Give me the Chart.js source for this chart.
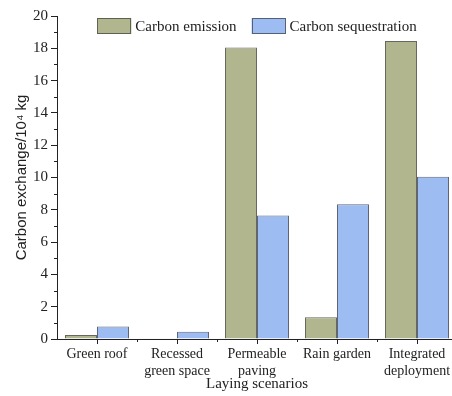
<!DOCTYPE html>
<html>
<head>
<meta charset="utf-8">
<script src="https://cdn.jsdelivr.net/npm/chart.js@4/dist/chart.umd.min.js"></script>
<style>
  html, body { margin: 0; padding: 0; background: #fff; overflow: hidden; }
  #wrap { position: absolute; left: 0; top: 0; width: 462px; height: 396px; }
</style>
</head>
<body>
<div id="wrap"><canvas id="c" width="462" height="396"></canvas></div>
<script>
// Laying scenarios and their carbon exchange (10^4 kg)
const categories = [
  ["Green roof"],
  ["Recessed", "green space"],
  ["Permeable", "paving"],
  ["Rain garden"],
  ["Integrated", "deployment"]
];
const carbonEmission = [0.25, 0.05, 18.05, 1.35, 18.45];
const carbonSequestration = [0.78, 0.45, 7.65, 8.35, 10.05];
const yTicks = [0, 2, 4, 6, 8, 10, 12, 14, 16, 18, 20];
const seriesNames = ["Carbon emission", "Carbon sequestration"];

const SERIF = "'Liberation Serif', 'Times New Roman', serif";
const INK = '#222';

// Minor tick marks on both axes
const minorTicks = {
  id: 'minorTicks',
  afterDraw(chart) {
    const ctx = chart.ctx;
    const y = chart.scales.y, x = chart.scales.x;
    ctx.save();
    ctx.strokeStyle = INK;
    ctx.lineWidth = 1;
    ctx.beginPath();
    for (let v = 1; v < 20; v += 2) {
      const py = Math.round(y.getPixelForValue(v)) + 0.5;
      ctx.moveTo(y.right - 3, py);
      ctx.lineTo(y.right, py);
    }
    for (let i = 0; i < categories.length - 1; i++) {
      const px = Math.round((x.getPixelForValue(i) + x.getPixelForValue(i + 1)) / 2) + 0.5;
      ctx.moveTo(px, x.top);
      ctx.lineTo(px, x.top + 3);
    }
    ctx.stroke();
    ctx.restore();
  }
};

// Legend drawn inside the top of the plot area
const insideLegend = {
  id: 'insideLegend',
  afterDraw(chart) {
    const ctx = chart.ctx;
    const area = chart.chartArea;
    const boxW = 34, boxH = 16, gap = 4, spacing = 15;
    ctx.save();
    ctx.font = '15px ' + SERIF;
    const items = chart.data.datasets.map(ds => ({
      label: ds.label, fill: ds.backgroundColor, stroke: ds.borderColor,
      w: boxW + gap + ctx.measureText(ds.label).width
    }));
    const total = items.reduce((s, it) => s + it.w, 0) + spacing * (items.length - 1);
    let cx = (area.left + area.right) / 2 - total / 2;
    const top = area.top + 2;
    items.forEach(it => {
      ctx.fillStyle = it.fill;
      ctx.fillRect(cx, top, boxW, boxH);
      ctx.strokeStyle = it.stroke;
      ctx.lineWidth = 1;
      ctx.strokeRect(Math.round(cx) + 0.5, top + 0.5, boxW - 1, boxH - 1);
      ctx.fillStyle = INK;
      ctx.textBaseline = 'middle';
      ctx.textAlign = 'left';
      ctx.fillText(it.label, cx + boxW + gap, top + boxH / 2 + 1);
      cx += it.w + spacing;
    });
    ctx.restore();
  }
};

new Chart(document.getElementById('c'), {
  type: 'bar',
  data: {
    labels: categories,
    datasets: [
      {
        label: seriesNames[0],
        data: carbonEmission,
        backgroundColor: '#b1b68f',
        borderColor: 'rgba(85,88,75,0.9)',
        borderWidth: 1
      },
      {
        label: seriesNames[1],
        data: carbonSequestration,
        backgroundColor: '#9dbcf2',
        borderColor: 'rgba(75,85,105,0.9)',
        borderWidth: 1
      }
    ]
  },
  options: {
    responsive: false,
    animation: false,
    devicePixelRatio: 1,
    layout: { padding: { top: 16, right: 5, left: 0, bottom: 0 } },
    categoryPercentage: 0.8,
    barPercentage: 1.0,
    plugins: {
      legend: { display: false },
      tooltip: { enabled: false }
    },
    scales: {
      x: {
        offset: true,
        afterFit(scale) { scale.height = 57; },
        grid: { display: true, drawOnChartArea: false, offset: false, tickLength: 5, color: INK, lineWidth: 1 },
        border: { display: true, color: INK, width: 1 },
        ticks: {
          color: INK,
          padding: 2,
          maxRotation: 0,
          autoSkip: false,
          font: { family: SERIF, size: 14, lineHeight: 1.2 }
        },
        title: {
          display: true,
          text: 'Laying scenarios',
          color: INK,
          padding: { top: 0, bottom: 3 },
          font: { family: SERIF, size: 15, lineHeight: 1.2 }
        }
      },
      y: {
        min: 0,
        max: 20,
        afterFit(scale) { scale.width = 57; },
        afterBuildTicks(scale) { scale.ticks = yTicks.map(v => ({ value: v })); },
        grid: { display: true, drawOnChartArea: false, tickLength: 6, color: INK, lineWidth: 1 },
        border: { display: true, color: INK, width: 1 },
        ticks: {
          color: INK,
          padding: 3,
          font: { family: SERIF, size: 15 }
        },
        title: {
          display: true,
          text: 'Carbon exchange/10\u2074 kg',
          color: INK,
          padding: { top: 13, bottom: 0 },
          font: { family: "'Liberation Sans Narrow', 'Liberation Sans', sans-serif", size: 15 }
        }
      }
    }
  },
  plugins: [minorTicks, insideLegend]
});
</script>
</body>
</html>
